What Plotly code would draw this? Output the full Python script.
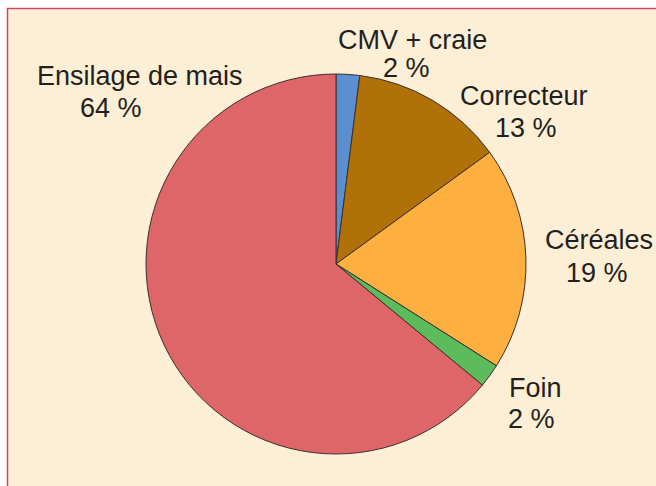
import plotly.graph_objects as go

labels = ["CMV + craie", "Correcteur", "Céréales", "Foin", "Ensilage de mais"]
values = [2, 13, 19, 2, 64]
pct_text = ["2 %", "13 %", "19 %", "2 %", "64 %"]
colors = ["#5B8FCF", "#B07208", "#FDAF40", "#5CBB5A", "#DE6568"]

W, H = 656, 486
CX, CY, R = 336, 264, 190
# label anchor positions (page pixels) for name and percentage lines
name_pos = [(412, 40), (524, 96), (599, 240), (535, 388), (140, 76)]
pct_pos = [(406, 68), (526, 128), (597, 273), (531, 419), (111, 108)]

fig = go.Figure(go.Pie(
    labels=labels, values=values, sort=False, direction="clockwise", rotation=0,
    marker=dict(colors=colors, line=dict(color="#3A3030", width=1)),
    textinfo="none", hoverinfo="label+percent", showlegend=False,
    domain=dict(x=[(CX - R) / W, (CX + R) / W], y=[(H - CY - R) / H, (H - CY + R) / H]),
))

font = dict(family="Liberation Sans, Arial, Helvetica, sans-serif", size=27, color="#231F20")
ann = []
for t, (x, y) in zip(labels, name_pos):
    ann.append(dict(text=t, x=x / W, y=1 - y / H, xref="paper", yref="paper",
                    showarrow=False, font=font, xanchor="center", yanchor="middle"))
for t, (x, y) in zip(pct_text, pct_pos):
    ann.append(dict(text=t, x=x / W, y=1 - y / H, xref="paper", yref="paper",
                    showarrow=False, font=font, xanchor="center", yanchor="middle"))

fig.update_layout(
    width=W, height=H, margin=dict(l=0, r=0, t=0, b=0),
    paper_bgcolor="white", plot_bgcolor="white",
    annotations=ann,
    shapes=[dict(type="rect", xref="paper", yref="paper", x0=7.5 / W, x1=1.05, y0=-0.05, y1=1 - 8.5 / H,
                 fillcolor="#FDEFD6", line=dict(color="#D2456A", width=1.5), layer="below")],
)
fig.write_html("out.html", config={"displayModeBar": False},
               post_script="document.documentElement.style.overflow='hidden';document.body.style.margin='0';document.body.style.overflow='hidden';")
